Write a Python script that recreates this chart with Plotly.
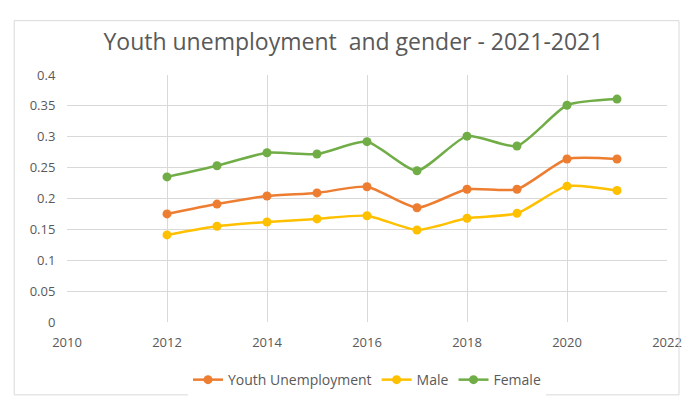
import plotly.graph_objects as go

years = [2012, 2013, 2014, 2015, 2016, 2017, 2018, 2019, 2020, 2021]
youth = [0.175, 0.191, 0.204, 0.209, 0.219, 0.185, 0.215, 0.215, 0.264, 0.264]
male = [0.141, 0.155, 0.162, 0.167, 0.172, 0.149, 0.168, 0.176, 0.220, 0.213]
female = [0.235, 0.253, 0.274, 0.272, 0.292, 0.245, 0.301, 0.285, 0.351, 0.361]

series = [
    ("Youth Unemployment", youth, "#ED7D31"),
    ("Male", male, "#FFC000"),
    ("Female", female, "#70AD47"),
]

fig = go.Figure()
for name, vals, col in series:
    fig.add_trace(go.Scatter(
        x=years, y=vals, name=name, mode="lines+markers",
        line=dict(color=col, width=2.5, shape="spline", smoothing=0.6),
        marker=dict(color=col, size=9),
    ))

font = "Open Sans, Liberation Sans, sans-serif"
fig.update_layout(
    width=693, height=402,
    margin=dict(l=67, r=26, t=75, b=80, autoexpand=False),
    paper_bgcolor="white", plot_bgcolor="white",
    title=dict(text="Youth unemployment  and gender - 2021-2021", x=0.51, xanchor="center",
               y=0.895, yanchor="middle",
               font=dict(family=font, size=23, color="#595959")),
    font=dict(family=font, size=12, color="#595959"),
    xaxis=dict(range=[2010, 2022], dtick=2, tick0=2010, showgrid=True, gridcolor="#D9D9D9",
               zeroline=False, showline=False, ticks="outside", ticklen=8, tickcolor="rgba(0,0,0,0)",
               tickfont=dict(size=13, color="#595959")),
    yaxis=dict(range=[0, 0.4], dtick=0.05, showgrid=True, gridcolor="#D9D9D9",
               zeroline=False, showline=False, ticks="outside", ticklen=8, tickcolor="rgba(0,0,0,0)",
               tickfont=dict(size=13, color="#595959")),
    legend=dict(orientation="h", x=0.5, xanchor="center", y=-0.235, yanchor="middle",
                font=dict(size=14, color="#595959")),
    shapes=[dict(type="rect", xref="paper", yref="paper", x0=-0.088, x1=1.02, y0=-0.295, y1=1.22,
                 line=dict(color="#D9D9D9", width=1))],
)

fig.write_html("out.html")
